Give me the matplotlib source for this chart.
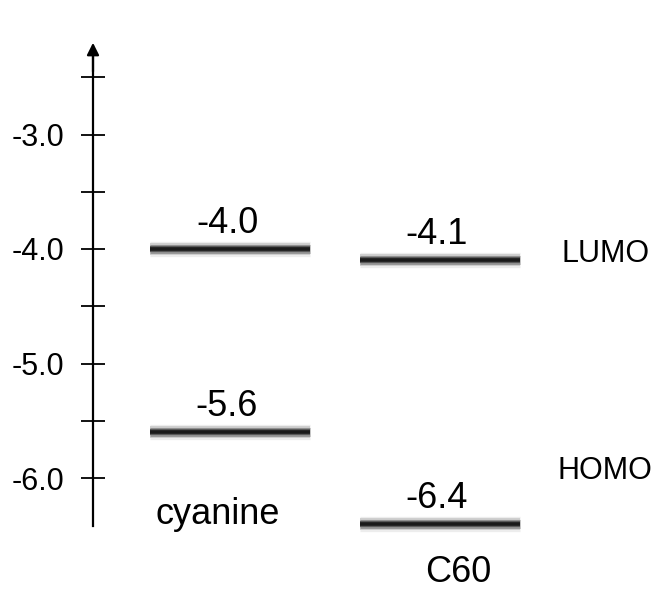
import numpy as np
import matplotlib
matplotlib.use("Agg")
from matplotlib import pyplot as plt
from matplotlib.ticker import FixedLocator

plt.rcParams['font.family'] = ['Liberation Sans', 'DejaVu Sans']

# energy levels (eV)
molecules = ["cyanine", "C60"]
lumo = [-4.0, -4.1]
homo = [-5.6, -6.4]
major_ticks = [-3.0, -4.0, -5.0, -6.0]
minor_ticks = [-2.5, -3.5, -4.5, -5.5]

W, H = 659, 589
fig = plt.figure(figsize=(W / 100, H / 100), dpi=100)
ax = fig.add_axes([0, 0, 1, 1])

# y in eV, x in pixels
px = 114.5  # pixels per eV


def ypix(p):
    # pixel row -> energy
    return -4.0 - (p - 249) / px


ax.set_xlim(0, W)
ax.set_ylim(ypix(H), ypix(0))

# energy axis
axis_x = 93
y_bottom = -6.42
y_top = ypix(40)
for s in ["top", "right", "bottom"]:
    ax.spines[s].set_visible(False)
ax.spines["left"].set_position(("data", axis_x))
ax.spines["left"].set_linewidth(1.6)
ax.spines["left"].set_bounds(y_bottom, y_top - 0.1)
ax.xaxis.set_visible(False)
ax.yaxis.set_major_locator(FixedLocator(major_ticks))
ax.yaxis.set_minor_locator(FixedLocator(minor_ticks))
ax.set_yticklabels([f"{v:.1f}" for v in major_ticks])
ax.tick_params(axis="y", which="both", direction="inout", length=17, width=1.3)
ax.tick_params(axis="y", which="major", labelsize=22, pad=12)
ax.annotate("", xy=(axis_x, y_top), xytext=(axis_x, y_top - 0.3),
            arrowprops=dict(arrowstyle="-|>", color="black", lw=1.6,
                            mutation_scale=18))
ax.patch.set_alpha(0)

# blurred level bars
x_ranges = [(150, 310), (360, 520)]
blur = [(11, "0.93"), (8.5, "0.8"), (6.5, "0.6"), (4.5, "0.35"), (2.6, "0.1")]


def level(x0, x1, e):
    for lw, c in blur:
        ax.plot([x0, x1], [e, e], color=c, lw=lw, solid_capstyle="butt")
    ax.text((x0 + x1) / 2 - 3, e + 16 / px, f"{e:.1f}", ha="center",
            va="baseline", fontsize=26)


for (x0, x1), l, h in zip(x_ranges, lumo, homo):
    level(x0, x1, l)
    level(x0, x1, h)

ax.text(218, ypix(524), molecules[0], ha="center", va="baseline", fontsize=26)
ax.text(458, ypix(582), molecules[1], ha="center", va="baseline", fontsize=26)
ax.text(562, ypix(254), "LUMO", ha="left", va="center", fontsize=22)
ax.text(557, ypix(471), "HOMO", ha="left", va="center", fontsize=22)

fig.savefig("out.png", dpi=100)
